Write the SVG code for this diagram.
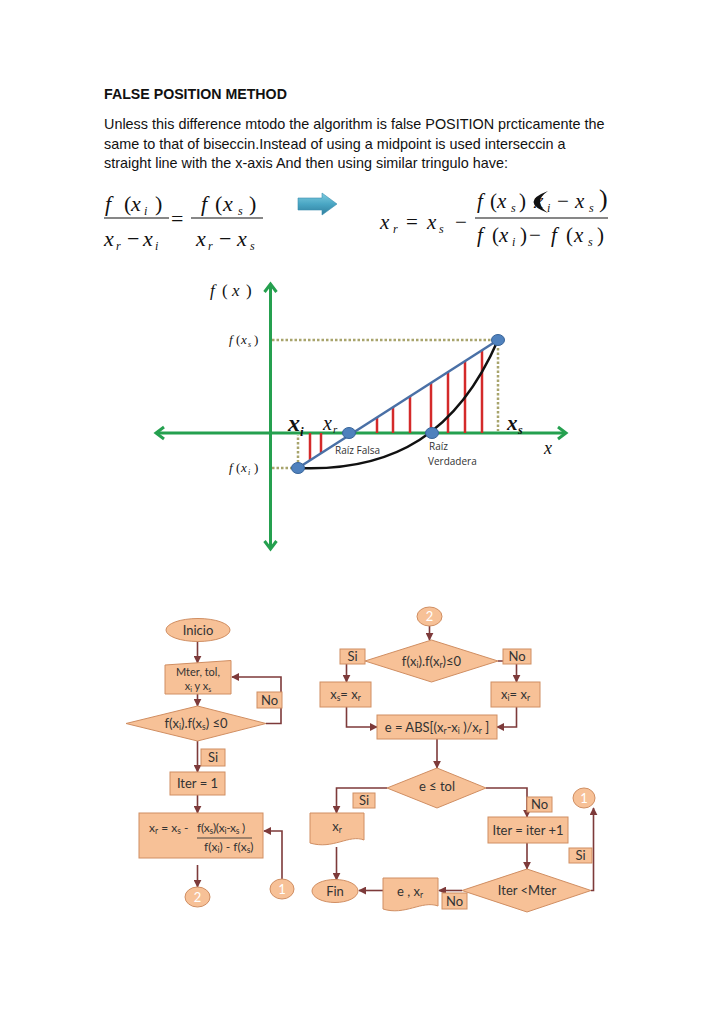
<svg xmlns="http://www.w3.org/2000/svg" width="719" height="1017" viewBox="0 0 719 1017">
<defs>
<style>
.hd{font-family:"Liberation Sans",Arial,sans-serif;font-weight:bold;font-size:14.2px;fill:#111}
.p{font-family:"Liberation Sans",Arial,sans-serif;font-size:14.4px;fill:#111}
.m{font-family:"Liberation Serif","Times New Roman",serif;font-size:22px;fill:#111}
.m2{font-family:"Liberation Serif","Times New Roman",serif;font-size:21px;fill:#111}
.it{font-style:italic}
.sb{font-size:12px}
.gl{font-family:"Liberation Serif","Times New Roman",serif;fill:#111}
.rz{font-family:"Open Sans",sans-serif;font-size:10px;fill:#333}
.fc{fill:#f7c197;stroke:#d08e62;stroke-width:1}
.ft{font-family:Lato,"Open Sans",sans-serif;font-size:13px;fill:#333;text-anchor:middle}
.fs{font-size:8.5px}
.wt{font-family:Lato,sans-serif;font-size:13px;fill:#fff;text-anchor:middle}
.cna{fill:none;stroke:#7d3a3a;stroke-width:1.6;marker-end:url(#ah)}
.ax{fill:none;stroke:#25a04f;stroke-width:3}
.dt{fill:none;stroke:#a8a46c;stroke-width:2.5;stroke-dasharray:2.5 2}
.rd{stroke:#d42a2a;stroke-width:2.5}
.pt{fill:#4f81bd;stroke:#39659a;stroke-width:1}
</style>
<marker id="ah" viewBox="0 0 10 10" refX="9" refY="5" markerUnits="userSpaceOnUse" markerWidth="8" markerHeight="8" orient="auto">
<path d="M0,0 L10,5 L0,10 z" fill="#7d3a3a"/>
</marker>
<linearGradient id="bg" x1="0" y1="0" x2="0" y2="1">
<stop offset="0" stop-color="#7fcde0"/>
<stop offset="0.5" stop-color="#4aa6c4"/>
<stop offset="1" stop-color="#2f7f9e"/>
</linearGradient>
</defs>
<rect width="719" height="1017" fill="#fff"/>

<g id="text">
<text class="hd" x="104" y="99">FALSE POSITION METHOD</text>
<text class="p" x="104" y="129">Unless this difference mtodo the algorithm is false POSITION prcticamente the</text>
<text class="p" x="104" y="149">same to that of biseccin.Instead of using a midpoint is used interseccin a</text>
<text class="p" x="104" y="168">straight line with the x-axis And then using similar tringulo have:</text>
</g>

<g id="formula-left">
<text class="m"><tspan class="it" x="105" y="211">f</tspan><tspan x="124" y="211">(</tspan><tspan class="it" x="131" y="211">x</tspan><tspan class="it sb" x="144" y="215">i</tspan><tspan x="155" y="211">)</tspan></text>
<line x1="104" y1="218" x2="169" y2="218" stroke="#111" stroke-width="1.2"/>
<text class="m"><tspan class="it" x="104" y="246">x</tspan><tspan class="it sb" x="116" y="250">r</tspan><tspan x="127" y="246">−</tspan><tspan class="it" x="143" y="246">x</tspan><tspan class="it sb" x="155" y="250">i</tspan></text>
<text class="m" x="171" y="226">=</text>
<text class="m"><tspan class="it" x="201" y="211">f</tspan><tspan x="215" y="211">(</tspan><tspan class="it" x="223" y="211">x</tspan><tspan class="it sb" x="238" y="215">s</tspan><tspan x="249" y="211">)</tspan></text>
<line x1="191" y1="218" x2="263" y2="218" stroke="#111" stroke-width="1.2"/>
<text class="m"><tspan class="it" x="196" y="246">x</tspan><tspan class="it sb" x="208" y="250">r</tspan><tspan x="219" y="246">−</tspan><tspan class="it" x="237" y="246">x</tspan><tspan class="it sb" x="250" y="250">s</tspan></text>
</g>

<g id="arrow-blue">
<path d="M298,198 L322,198 L322,193 L337,204 L322,215 L322,210 L298,210 Z" fill="url(#bg)" stroke="#3b8fae" stroke-width="0.6"/>
</g>

<g id="formula-right">
<text class="m2"><tspan class="it" x="380" y="229">x</tspan><tspan class="it sb" x="393" y="233">r</tspan><tspan x="406" y="229">=</tspan><tspan class="it" x="427" y="229">x</tspan><tspan class="it sb" x="439" y="233">s</tspan><tspan x="455" y="229">−</tspan></text>
<line x1="475" y1="218" x2="608" y2="218" stroke="#111" stroke-width="1.2"/>
<text class="m2"><tspan class="it" x="477" y="208">f</tspan><tspan x="490" y="208">(</tspan><tspan class="it" x="497" y="208">x</tspan><tspan class="it sb" x="511" y="212">s</tspan><tspan x="519" y="208">)</tspan><tspan class="it" x="534" y="208">x</tspan><tspan class="it sb" x="547" y="212">i</tspan><tspan x="557" y="208">−</tspan><tspan class="it" x="575" y="208">x</tspan><tspan class="it sb" x="589" y="212">s</tspan></text>
<path d="M548,191 Q519,202 548,213 Q532,202 548,191 Z" fill="#111"/>
<text x="599" y="207" font-family="Liberation Serif,serif" font-size="26" fill="#111">)</text>
<text class="m2"><tspan class="it" x="477" y="242">f</tspan><tspan x="492" y="242">(</tspan><tspan class="it" x="499" y="242">x</tspan><tspan class="it sb" x="512" y="246">i</tspan><tspan x="520" y="242">)</tspan><tspan x="529" y="242">−</tspan><tspan class="it" x="551" y="242">f</tspan><tspan x="566" y="242">(</tspan><tspan class="it" x="574" y="242">x</tspan><tspan class="it sb" x="588" y="246">s</tspan><tspan x="597" y="242">)</tspan></text>
</g>

<g id="graph">
<line class="ax" x1="270.5" y1="285" x2="270.5" y2="548"/>
<polyline class="ax" points="264.5,292 270.5,284 276.5,292"/>
<polyline class="ax" points="264.5,541 270.5,549 276.5,541"/>
<line class="ax" x1="157" y1="433" x2="565" y2="433"/>
<polyline class="ax" points="164,427 156,433 164,439"/>
<polyline class="ax" points="558,427 566,433 558,439"/>
<polyline class="dt" points="272,340 498,340 498,431"/>
<polyline class="dt" points="272,468 298,468 298,435"/>
<g id="red-lines">
<line class="rd" x1="310" y1="433" x2="310" y2="460"/>
<line class="rd" x1="321" y1="433" x2="321" y2="453"/>
<line class="rd" x1="377" y1="433" x2="377" y2="417"/>
<line class="rd" x1="393" y1="433" x2="393" y2="407"/>
<line class="rd" x1="410" y1="433" x2="410" y2="396"/>
<line class="rd" x1="431" y1="433" x2="431" y2="383"/>
<line class="rd" x1="448" y1="433" x2="448" y2="372"/>
<line class="rd" x1="465" y1="433" x2="465" y2="361"/>
<line class="rd" x1="482" y1="433" x2="482" y2="350"/>
</g>
<path d="M298,468 C395,472 458,432 498,340" fill="none" stroke="#111" stroke-width="2.5"/>
<line x1="298" y1="468" x2="498" y2="340" stroke="#4a70a6" stroke-width="2.5"/>
<ellipse class="pt" cx="298" cy="468" rx="6.5" ry="5.5"/>
<ellipse class="pt" cx="349" cy="433" rx="6.5" ry="5.5"/>
<ellipse class="pt" cx="432" cy="433" rx="6.5" ry="5.5"/>
<ellipse class="pt" cx="498" cy="340" rx="6.5" ry="5.5"/>
<text class="gl" font-size="17"><tspan class="it" x="210" y="296">f</tspan><tspan x="222" y="296">(</tspan><tspan class="it" x="232" y="296">x</tspan><tspan x="246" y="296">)</tspan></text>
<text class="gl" font-size="13"><tspan class="it" x="229" y="344">f</tspan><tspan x="236" y="344">(</tspan><tspan class="it" x="241" y="344">x</tspan><tspan class="it" font-size="8" x="248" y="347">s</tspan><tspan x="254" y="344">)</tspan></text>
<text class="gl" font-size="13"><tspan class="it" x="229" y="472">f</tspan><tspan x="236" y="472">(</tspan><tspan class="it" x="241" y="472">x</tspan><tspan class="it" font-size="8" x="248" y="475">i</tspan><tspan x="254" y="472">)</tspan></text>
<text class="gl" font-weight="bold" font-style="italic"><tspan font-size="24" x="288" y="431">x</tspan><tspan font-size="13" x="300" y="436">i</tspan></text>
<text class="gl" font-style="italic"><tspan font-size="20" x="323" y="430">x</tspan><tspan font-size="11" x="333" y="433">r</tspan></text>
<text class="gl" font-weight="bold" font-style="italic"><tspan font-size="21" x="507" y="430">x</tspan><tspan font-size="12" x="518" y="434">s</tspan></text>
<text class="gl it" font-size="18" x="544" y="454">x</text>
<text class="rz" x="335" y="454">Raíz Falsa</text>
<text class="rz" x="429" y="450">Raíz</text>
<text class="rz" x="428" y="465">Verdadera</text>
</g>

<g id="connectors">
<line class="cna" x1="197.5" y1="641" x2="197.5" y2="663"/>
<line class="cna" x1="197.5" y1="694" x2="197.5" y2="706"/>
<path class="cna" d="M266,723.5 H281 V677 H232"/>
<line class="cna" x1="197.5" y1="741" x2="197.5" y2="772"/>
<line class="cna" x1="197.5" y1="795" x2="197.5" y2="813"/>
<line class="cna" x1="197.5" y1="865" x2="197.5" y2="887"/>
<path class="cna" d="M282,879 V831 H264"/>
<line class="cna" x1="429.5" y1="626" x2="429.5" y2="640"/>
<path class="cna" d="M365,661 H346.5 V682"/>
<path class="cna" d="M498,661 H516.5 V682"/>
<path class="cna" d="M346.5,707 V727 H377"/>
<path class="cna" d="M516.5,707 V727 H497"/>
<line class="cna" x1="437" y1="739" x2="437" y2="768"/>
<path class="cna" d="M387,788 H336.5 V813"/>
<path class="cna" d="M486,788 H527 V817"/>
<line class="cna" x1="527" y1="843" x2="527" y2="869"/>
<path class="cna" d="M591,890.5 H593.5 V808"/>
<line class="cna" x1="462" y1="890.5" x2="439" y2="890.5"/>
<line class="cna" x1="383" y1="890.5" x2="359" y2="890.5"/>
<line class="cna" x1="336.5" y1="847" x2="336.5" y2="880"/>
</g>

<g id="n-inicio"><ellipse class="fc" cx="198" cy="630" rx="32" ry="11.5"/><text class="ft" x="198" y="634.5">Inicio</text></g>
<g id="n-input"><polygon class="fc" points="165,665 231,660.5 231,694 165,694"/><text class="ft" style="font-size:11px" x="198" y="675.5">Mter, tol,</text><text class="ft" style="font-size:11px" x="198" y="690">x<tspan style="font-size:7px" dy="1.5">i</tspan><tspan dy="-1.5"> y x</tspan><tspan style="font-size:7px" dy="1.5">s</tspan></text></g>
<g id="n-cond1"><polygon class="fc" points="126,723.5 197.5,706 266,723.5 197.5,741"/><text class="ft" x="196" y="728">f(x<tspan class="fs" dy="2">i</tspan><tspan dy="-2">).f(x</tspan><tspan class="fs" dy="2">s</tspan><tspan dy="-2">) ≤0</tspan></text></g>
<g id="l-no1"><rect class="fc" x="257" y="692" width="25" height="16"/><text class="ft" x="269.5" y="704.5">No</text></g>
<g id="l-si1"><rect class="fc" x="201" y="749" width="24" height="17"/><text class="ft" x="213" y="762">Si</text></g>
<g id="n-iter1"><rect class="fc" x="170" y="772" width="55" height="23"/><text class="ft" x="197.5" y="788">Iter = 1</text></g>
<g id="n-xr"><rect class="fc" x="139" y="813" width="124" height="45"/>
<text class="ft" style="text-anchor:start;font-size:12px" x="149" y="832">x<tspan class="fs" dy="2">r</tspan><tspan dy="-2"> = x</tspan><tspan class="fs" dy="2">s</tspan><tspan dy="-2"> -</tspan></text>
<text class="ft" style="text-anchor:start;font-size:12px;letter-spacing:-0.3px" x="197" y="832">f(x<tspan class="fs" dy="2">s</tspan><tspan dy="-2">)(x</tspan><tspan class="fs" dy="2">i</tspan><tspan dy="-2">-x</tspan><tspan class="fs" dy="2">s</tspan><tspan dy="-2"> )</tspan></text>
<line x1="197" y1="838" x2="252" y2="838" stroke="#333" stroke-width="0.9"/>
<text class="ft" style="text-anchor:start;font-size:12px" x="204" y="851">f(x<tspan class="fs" dy="2">i</tspan><tspan dy="-2">) - f(x</tspan><tspan class="fs" dy="2">s</tspan><tspan dy="-2">)</tspan></text></g>
<g id="c-2a"><ellipse class="fc" cx="197.5" cy="897" rx="12.5" ry="10"/><text class="wt" x="197.5" y="901.5">2</text></g>
<g id="c-1a"><ellipse class="fc" cx="282" cy="889" rx="12" ry="10"/><text class="wt" x="282" y="893.5">1</text></g>

<g id="c-2b"><ellipse class="fc" cx="429.5" cy="616.5" rx="12.5" ry="9.5"/><text class="wt" x="429.5" y="621">2</text></g>
<g id="n-cond2"><polygon class="fc" points="365,661 431.5,640 498,661 431.5,682"/><text class="ft" x="431.5" y="665.5">f(x<tspan class="fs" dy="2">i</tspan><tspan dy="-2">).f(x</tspan><tspan class="fs" dy="2">r</tspan><tspan dy="-2">)≤0</tspan></text></g>
<g id="l-si2"><rect class="fc" x="340" y="649" width="25" height="15"/><text class="ft" x="352.5" y="661">Si</text></g>
<g id="l-no2"><rect class="fc" x="503" y="649" width="28" height="15"/><text class="ft" x="517" y="661">No</text></g>
<g id="n-xs"><rect class="fc" x="320" y="682" width="51" height="25"/><text class="ft" x="345.5" y="698.5">x<tspan class="fs" dy="2">s</tspan><tspan dy="-2">= x</tspan><tspan class="fs" dy="2">r</tspan></text></g>
<g id="n-xi"><rect class="fc" x="491" y="682" width="49" height="25"/><text class="ft" x="515.5" y="698.5">x<tspan class="fs" dy="2">i</tspan><tspan dy="-2">= x</tspan><tspan class="fs" dy="2">r</tspan></text></g>
<g id="n-e"><rect class="fc" x="377" y="715" width="120" height="24"/><text class="ft" x="437" y="731.5">e = ABS[(x<tspan class="fs" dy="2">r</tspan><tspan dy="-2">-x</tspan><tspan class="fs" dy="2">i</tspan><tspan dy="-2"> )/x</tspan><tspan class="fs" dy="2">r</tspan><tspan dy="-2"> ]</tspan></text></g>
<g id="n-cond3"><polygon class="fc" points="387,788 437,768 486,788 437,808"/><text class="ft" x="437" y="791">e  ≤ tol</text></g>
<g id="l-si3"><rect class="fc" x="353" y="793" width="22" height="15"/><text class="ft" x="364" y="805">Si</text></g>
<g id="l-no3"><rect class="fc" x="527" y="797" width="25" height="15"/><text class="ft" x="539.5" y="809">No</text></g>
<g id="n-iter2"><rect class="fc" x="488" y="817" width="80" height="26"/><text class="ft" x="528" y="834.5">Iter = iter +1</text></g>
<g id="n-cond4"><polygon class="fc" points="462,890.5 527,869 591,890.5 527,912"/><text class="ft" x="527" y="895">Iter &lt;Mter</text></g>
<g id="l-si4"><rect class="fc" x="569" y="848" width="23" height="15"/><text class="ft" x="580.5" y="860">Si</text></g>
<g id="c-1b"><ellipse class="fc" cx="584" cy="798" rx="11" ry="10"/><text class="wt" x="584" y="802.5">1</text></g>
<g id="l-no4"><rect class="fc" x="442" y="893" width="25" height="16"/><text class="ft" x="454.5" y="905.5">No</text></g>
<g id="n-out2"><path class="fc" d="M383,878 H438 V906 C422,900 405,916 383,909 Z"/><text class="ft" x="410" y="896">e , x<tspan class="fs" dy="2">r</tspan></text></g>
<g id="n-fin"><ellipse class="fc" cx="335" cy="891" rx="23" ry="11.5"/><text class="ft" x="335" y="895.5">Fin</text></g>
<g id="n-out1"><path class="fc" d="M310,813 H364 V840 C349,834 333,850 310,843 Z"/><text class="ft" x="337" y="831">x<tspan class="fs" dy="2">r</tspan></text></g>
</svg>
